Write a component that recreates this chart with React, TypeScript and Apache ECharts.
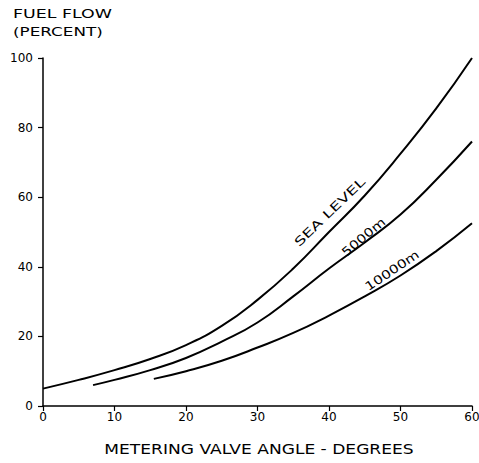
import React, { useEffect, useRef } from "react";
import * as echarts from "echarts";

const seaLevel: [number, number][] = [
  [0, 5], [5, 7.5], [10, 10.3], [15, 13.5], [20, 17.5], [25, 23], [30, 30.5],
  [35, 39.5], [40, 50], [45, 60.5], [50, 72.5], [55, 85.5], [60, 100],
];
const alt5000: [number, number][] = [
  [7, 6], [10, 7.5], [15, 10.3], [20, 13.8], [25, 18.5], [30, 24], [35, 31.5],
  [40, 39.5], [45, 47], [50, 55], [55, 65], [60, 76],
];
const alt10000: [number, number][] = [
  [15.5, 7.8], [20, 10], [25, 13], [30, 16.8], [35, 21], [40, 26], [45, 31.5],
  [50, 37.5], [55, 44.5], [60, 52.5],
];
const curveLabels = [
  { text: "SEA LEVEL", at: [40.1, 55.7], angle: 44, stretch: 1.45 },
  { text: "5000m", at: [44.8, 48.6], angle: 40, stretch: 1.25 },
  { text: "10000m", at: [48.8, 39], angle: 34, stretch: 1.25 },
];
const yTitle = ["FUEL FLOW", "(PERCENT)"];
const xTitle = "METERING VALVE ANGLE - DEGREES";

const FONT = "'DejaVu Sans', sans-serif";

export default function App() {
  const ref = useRef<HTMLDivElement>(null);
  useEffect(() => {
    if (!ref.current) return;
    const chart = echarts.init(ref.current, null, { renderer: "svg" });
    const lineSeries = (name: string, data: [number, number][]) => ({
      name,
      type: "line",
      data,
      smooth: true,
      symbol: "none",
      lineStyle: { color: "#000", width: 2 },
    });
    chart.setOption({
      animation: false,
      backgroundColor: "#fff",
      grid: { left: 43, right: 7, top: 58, bottom: 57, outerBoundsMode: "none" },
      xAxis: {
        type: "value",
        min: 0,
        max: 60,
        interval: 10,
        axisLine: { lineStyle: { color: "#000", width: 1.5 } },
        axisTick: { show: true, length: 5, lineStyle: { color: "#000", width: 1.2 } },
        axisLabel: { color: "#000", fontSize: 12, fontFamily: FONT, margin: 5 },
        splitLine: { show: false },
      },
      yAxis: {
        type: "value",
        min: 0,
        max: 100,
        interval: 20,
        axisLine: { show: true, lineStyle: { color: "#000", width: 1.5 } },
        axisTick: { show: true, length: 5, lineStyle: { color: "#000", width: 1.2 } },
        axisLabel: { color: "#000", fontSize: 12, fontFamily: FONT, margin: 10 },
        splitLine: { show: false },
      },
      series: [
        lineSeries("Sea level", seaLevel),
        lineSeries("5000m", alt5000),
        lineSeries("10000m", alt10000),
      ],
    });
    const graphics: any[] = [
      {
        type: "text",
        x: 13,
        y: 8,
        scaleX: 1.45,
        style: { text: yTitle[0], fill: "#000", font: `12px ${FONT}` },
      },
      {
        type: "text",
        x: 13,
        y: 25,
        scaleX: 1.4,
        style: { text: yTitle[1], fill: "#000", font: `12px ${FONT}` },
      },
      {
        type: "text",
        x: 259,
        y: 450,
        scaleX: 1.22,
        style: {
          text: xTitle,
          fill: "#000",
          font: `14px ${FONT}`,
          align: "center",
          verticalAlign: "middle",
        },
      },
    ];
    curveLabels.forEach((l) => {
      const p = chart.convertToPixel({ gridIndex: 0 }, l.at) as number[];
      graphics.push({
        type: "text",
        x: p[0],
        y: p[1],
        rotation: (l.angle * Math.PI) / 180,
        scaleX: l.stretch,
        style: {
          text: l.text,
          fill: "#000",
          font: `12px ${FONT}`,
          align: "center",
          verticalAlign: "middle",
        },
      });
    });
    chart.setOption({ graphic: graphics });
    return () => chart.dispose();
  }, []);
  return (
    <div
      ref={ref}
      style={{ position: "fixed", left: 0, top: 0, width: 479, height: 463 }}
    />
  );
}
